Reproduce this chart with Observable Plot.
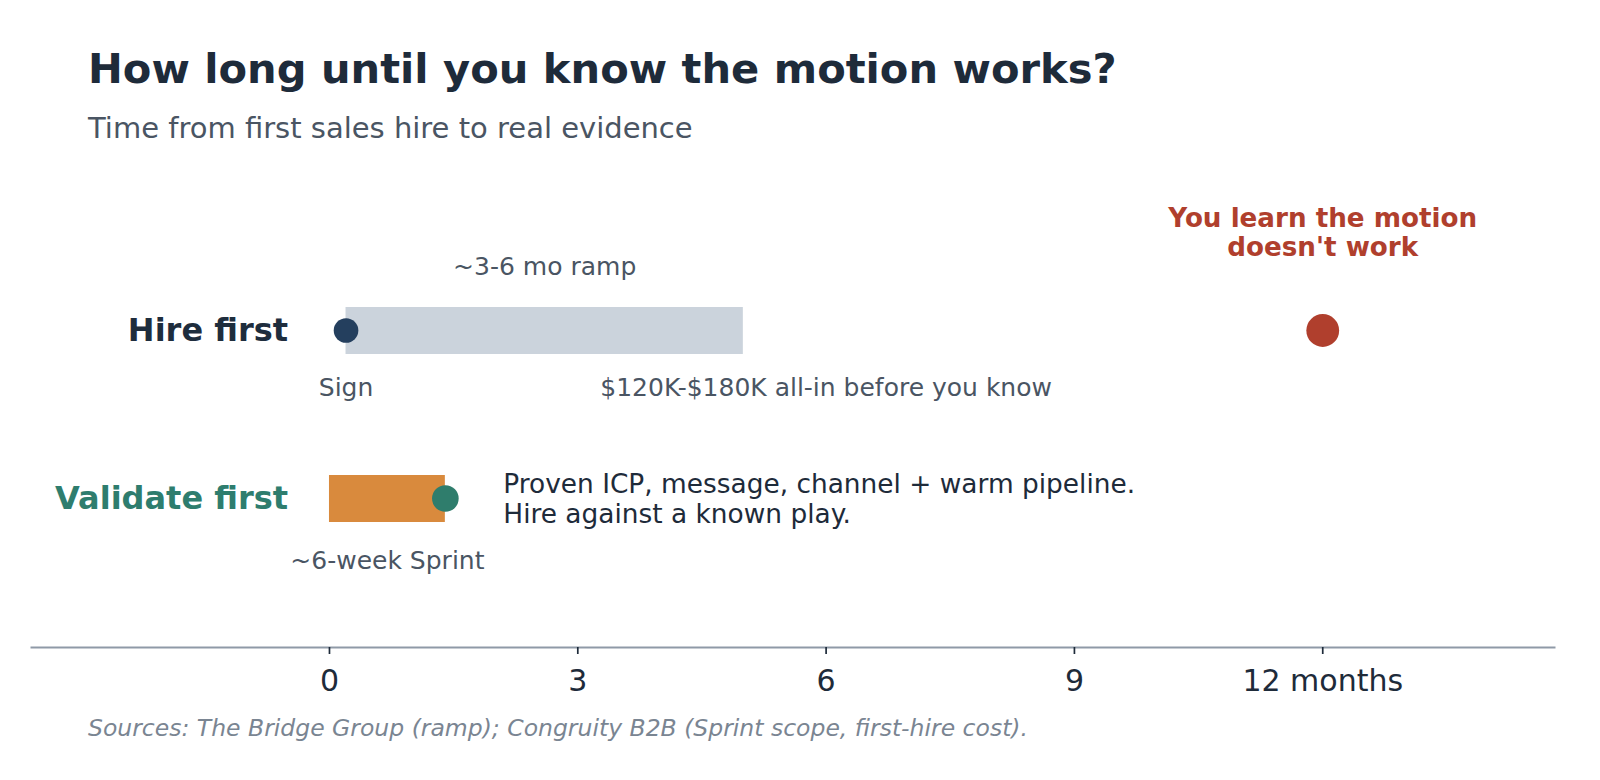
<!DOCTYPE html>
<html>
<head>
<meta charset="utf-8">
<script src="https://cdn.jsdelivr.net/npm/d3@7"></script>
<script src="https://cdn.jsdelivr.net/npm/@observablehq/plot@0.6"></script>
<style>
  html, body { margin: 0; padding: 0; background: #ffffff; }
  body { width: 1600px; height: 780px; position: relative; overflow: hidden; font-family: "DejaVu Sans", sans-serif; }
  #title { position: absolute; left: 88px; top: 48px; font-size: 41.6px; line-height: 41.6px; font-weight: bold; color: #1e2b3a; white-space: nowrap; }
  #subtitle { position: absolute; left: 88px; top: 114px; font-size: 29px; line-height: 29px; color: #4a5563; white-space: nowrap; }
  #chart { position: absolute; left: 0; top: 160px; }
  #caption { position: absolute; left: 88px; top: 717px; font-size: 23.5px; line-height: 23.5px; font-style: italic; color: #7a8592; white-space: nowrap; }
</style>
</head>
<body>
<div id="title">How long until you know the motion works?</div>
<div id="subtitle">Time from first sales hire to real evidence</div>
<div id="chart"></div>
<div id="caption">Sources: The Bridge Group (ramp); Congruity B2B (Sprint scope, first-hire cost).</div>
<script>
// ---- data ----
const rows = ["Hire first", "Validate first"];
const rowColors = ["#1e2d3d", "#2e7d6e"];
const barStart = [0.2, 0];
const barEnd = [5.0, 1.4];
const barColors = ["#cbd3dc", "#d98a3d"];

const signMonth = 0.2;          // Hire first: sign point
const sprintEndMonth = 1.4;     // Validate first: end of ~6-week sprint
const failMonth = 12;           // Hire first: learn the motion doesn't work

const tickValues = [0, 3, 6, 9, 12];
const tickLabels = ["0", "3", "6", "9", "12 months"];

const noteText = ["~3-6 mo ramp", "Sign", "$120K-$180K all-in before you know", "~6-week Sprint"];
const noteMonth = [2.6, 0.2, 6, 0.7];
const noteRow = ["Hire first", "Hire first", "Hire first", "Validate first"];

const failText = "You learn the motion\ndoesn't work";
const provenText = "Proven ICP, message, channel + warm pipeline.\nHire against a known play.";
const provenMonth = 2.1;
const rowLabelMonth = -0.5;

// ---- build tables ----
const bars = rows.map((r, i) => ({row: r, x1: barStart[i], x2: barEnd[i], color: barColors[i]}));
const rowLabels = rows.map((r, i) => ({row: r, x: rowLabelMonth, color: rowColors[i]}));
const notes = noteText.map((t, i) => ({text: t, x: noteMonth[i], row: noteRow[i]}));
const noteDy = [-64, 57, 57, 62];

const chart = Plot.plot({
  width: 1600,
  height: 547,
  marginLeft: 31,
  marginRight: 46,
  marginTop: 0,
  marginBottom: 60,
  x: {domain: [-3.6, 14.8]},
  y: {type: "point", domain: rows, range: [170, 338], padding: 0, axis: null},
  style: {fontFamily: "DejaVu Sans", background: "white", overflow: "visible"},
  marks: [
    Plot.frame({anchor: "bottom", stroke: "#8f9aa7", strokeWidth: 2}),
    Plot.axisX({
      ticks: tickValues,
      tickFormat: d => tickLabels[tickValues.indexOf(d)],
      tickSize: 7,
      tickPadding: 15,
      fontSize: 30,
      stroke: "#1e2b3a",
      strokeWidth: 1.7,
      fill: "#1e2b3a",
      label: null
    }),
    Plot.ruleY(bars, {y: "row", x1: "x1", x2: "x2", stroke: "color", strokeWidth: 47}),
    Plot.dot([{x: signMonth, row: rows[0]}], {x: "x", y: "row", r: 12.3, fill: "#243f5e"}),
    Plot.dot([{x: sprintEndMonth, row: rows[1]}], {x: "x", y: "row", r: 13.3, fill: "#2f7d6c"}),
    Plot.dot([{x: failMonth, row: rows[0]}], {x: "x", y: "row", r: 16.4, fill: "#b03f2d"}),
    Plot.text(rowLabels, {x: "x", y: "row", text: "row", fill: "color", textAnchor: "end", fontSize: 32, fontWeight: "bold"}),
    ...notes.map((n, i) => Plot.text([n], {x: "x", y: "row", text: "text", dy: noteDy[i], fontSize: 25, fill: "#4a5563"})),
    Plot.text([{x: failMonth, row: rows[0], text: failText}], {x: "x", y: "row", text: "text", dy: -98, fontSize: 26.2, fontWeight: "bold", fill: "#b03f2d", lineHeight: 1.1}),
    Plot.text([{x: provenMonth, row: rows[1], text: provenText}], {x: "x", y: "row", text: "text", textAnchor: "start", fontSize: 26.4, fill: "#1e2b3a", lineHeight: 1.12})
  ]
});
document.getElementById("chart").appendChild(chart);
</script>
</body>
</html>
